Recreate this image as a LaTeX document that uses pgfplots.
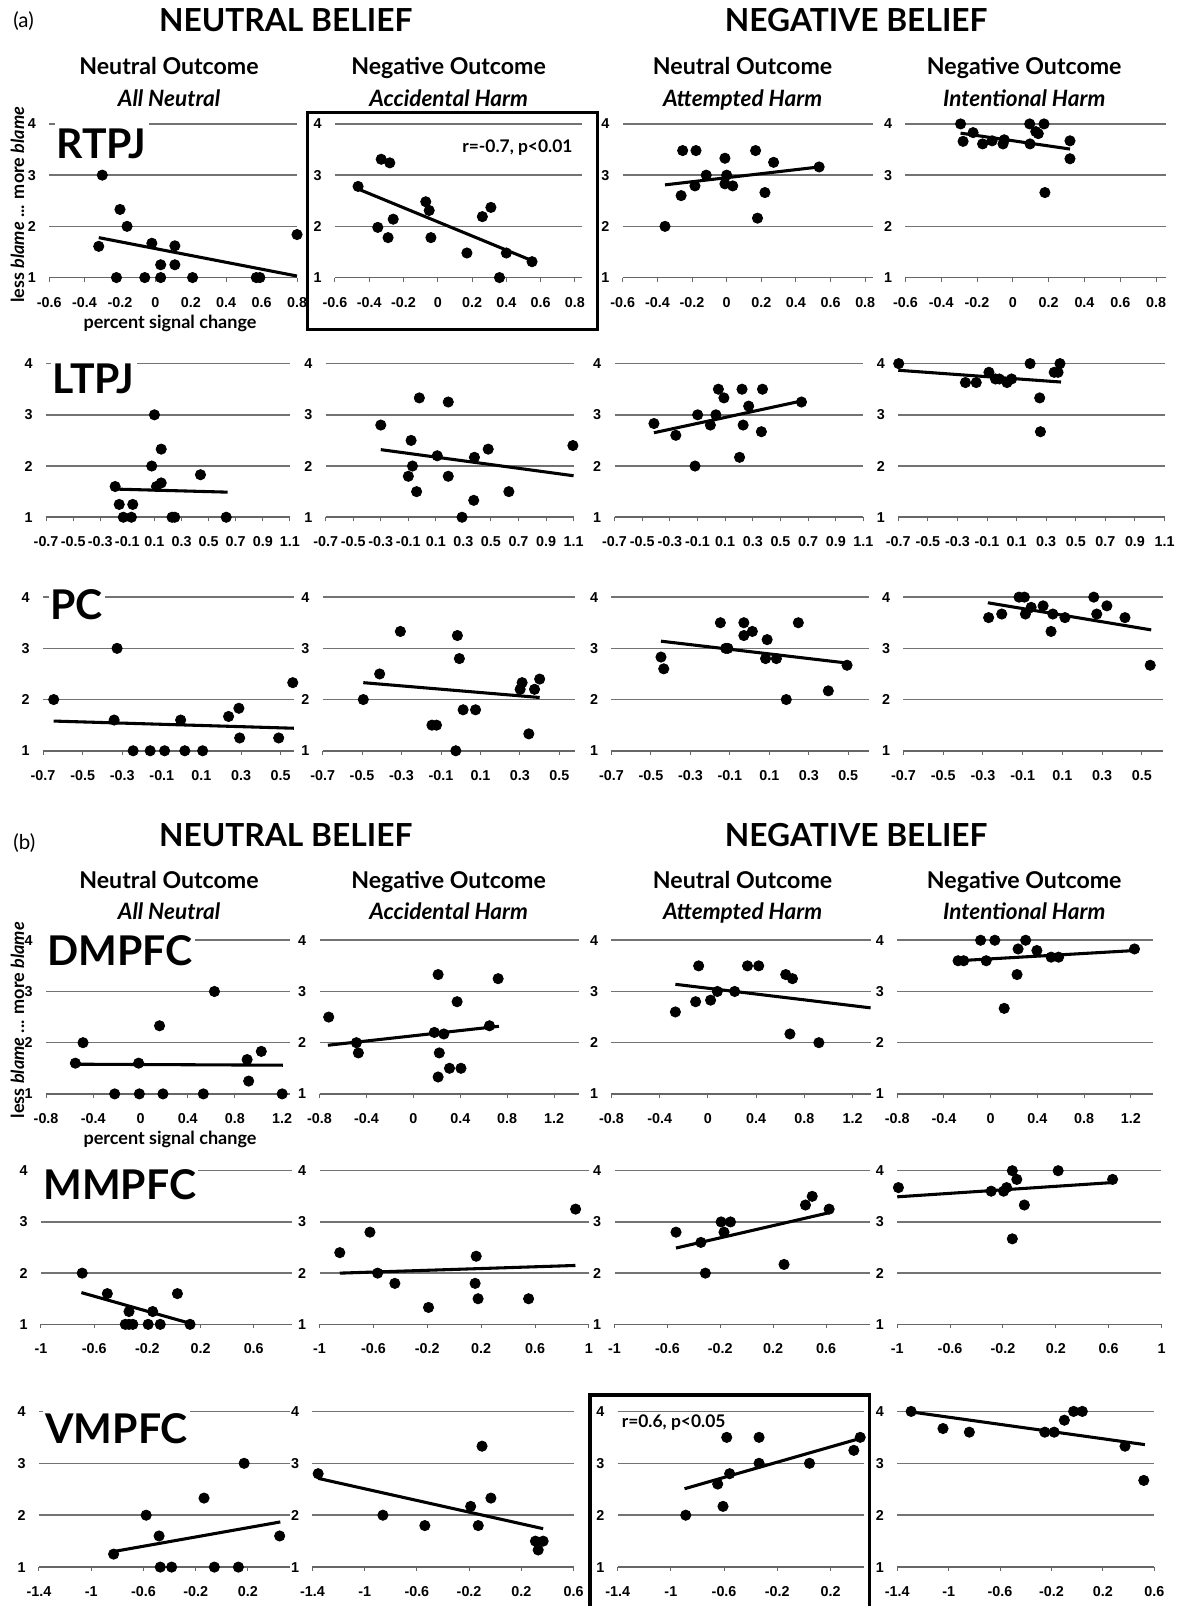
\documentclass[border=0pt]{standalone}
\usepackage{fontspec}
\setmainfont{Lato}
\newfontfamily\arialf{Liberation Sans}
\usepackage{pgfplots}
\pgfplotsset{compat=1.18}
\pgfplotsset{
  base/.style={scale only axis, clip=false, ymin=1, ymax=4, ytick={1,2,3,4}, ymajorgrids,
    grid style={black!55, line width=0.75pt},
    axis x line*=bottom, axis y line*=left,
    y axis line style={draw=none},
    x axis line style={black!60, line width=0.75pt},
    ytick style={draw=none}, xtick style={black!60, line width=0.5pt},
    tick align=outside, major tick length=2pt,
    tick label style={font=\arialf\bfseries\fontsize{7pt}{8pt}\selectfont},
    xticklabel shift=4pt, yticklabel shift=1pt,
    /pgf/number format/fixed, /pgf/number format/precision=1,
    /pgf/number format/assume math mode=true},
  pan/.style n args={6}{base, at={({#1*0.5pt},{-#4*0.5pt})}, anchor=south west,
    width={(#2-#1)*0.5pt}, height={(#4-#3)*0.5pt}, xmin=#5, xmax=#6},
  ta/.style={xtick={-0.6,-0.4,-0.2,0,0.2,0.4,0.6,0.8}},
  tb/.style={xtick={-0.7,-0.5,-0.3,-0.1,0.1,0.3,0.5,0.7,0.9,1.1}},
  tc/.style={xtick={-0.7,-0.5,-0.3,-0.1,0.1,0.3,0.5}},
  td/.style={xtick={-0.8,-0.4,0,0.4,0.8,1.2}},
  te/.style={xtick={-1,-0.6,-0.2,0.2,0.6}},
  tE/.style={xtick={-1,-0.6,-0.2,0.2,0.6,1}},
  tf/.style={xtick={-1.4,-1,-0.6,-0.2,0.2}},
  tF/.style={xtick={-1.4,-1,-0.6,-0.2,0.2,0.6}},
  pt/.style={only marks, mark=*, mark size=2.5pt, black},
  tl/.style={black, line width=1.5pt, no marks},
}
\begin{document}
\begin{tikzpicture}
\useasboundingbox (0,0) rectangle (575.5pt,-784pt);
% ===== (a) row 1 RTPJ
\begin{axis}[pan={48}{290}{121}{271}{-0.6}{0.8}, ta]
\addplot[pt] coordinates {(-0.30,3.0)(-0.32,1.61)(-0.20,2.33)(-0.16,2.0)(-0.22,1)(-0.06,1)(-0.02,1.67)(0.03,1.25)(0.03,1)(0.11,1.62)(0.11,1.25)(0.21,1)(0.57,1)(0.59,1)(0.80,1.84)};
\addplot[tl] coordinates {(-0.32,1.78)(0.80,1.03)};
\end{axis}
\begin{axis}[pan={327}{568}{121}{271}{-0.6}{0.84}, ta]
\addplot[pt] coordinates {(-0.465,2.78)(-0.33,3.31)(-0.28,3.24)(-0.35,1.98)(-0.29,1.78)(-0.26,2.14)(-0.07,2.48)(-0.05,2.31)(-0.04,1.78)(0.17,1.48)(0.26,2.19)(0.31,2.37)(0.36,1.0)(0.40,1.48)(0.55,1.31)};
\addplot[tl] coordinates {(-0.465,2.73)(0.55,1.33)};
\end{axis}
\begin{axis}[pan={608}{852}{121}{271}{-0.6}{0.843}, ta]
\addplot[pt] coordinates {(-0.356,2.0)(-0.263,2.6)(-0.254,3.48)(-0.177,3.48)(-0.183,2.79)(-0.118,3.0)(-0.01,3.33)(0,3.0)(-0.01,2.83)(0.035,2.79)(0.167,3.48)(0.178,2.16)(0.221,2.66)(0.271,3.25)(0.534,3.16)};
\addplot[tl] coordinates {(-0.356,2.81)(0.534,3.16)};
\end{axis}
\begin{axis}[pan={884}{1138}{121}{271}{-0.6}{0.853}, ta]
\addplot[pt] coordinates {(-0.292,4.0)(-0.278,3.66)(-0.222,3.83)(-0.169,3.61)(-0.116,3.67)(-0.055,3.61)(-0.048,3.69)(0.094,4.0)(0.096,3.61)(0.128,3.85)(0.142,3.81)(0.174,4.0)(0.179,2.66)(0.319,3.67)(0.319,3.32)};
\addplot[tl] coordinates {(-0.292,3.82)(0.319,3.51)};
\end{axis}
% ===== (a) row 2 LTPJ
\begin{axis}[pan={45}{283}{355}{505}{-0.7}{1.1}, tb]
\addplot[pt] coordinates {(-0.19,1.6)(-0.16,1.25)(-0.13,1)(-0.07,1)(-0.06,1.25)(0.10,3.0)(0.15,2.33)(0.08,2.0)(0.15,1.67)(0.115,1.6)(0.23,1)(0.25,1)(0.44,1.83)(0.63,1)};
\addplot[tl] coordinates {(-0.19,1.55)(0.64,1.49)};
\end{axis}
\begin{axis}[pan={318}{560}{355}{505}{-0.7}{1.1}, tb]
\addplot[pt] coordinates {(-0.30,2.8)(-0.02,3.33)(0.19,3.25)(-0.08,2.5)(0.11,2.2)(-0.07,2.0)(-0.10,1.8)(0.19,1.8)(-0.04,1.5)(0.38,2.17)(0.48,2.33)(0.29,1.0)(0.375,1.33)(0.63,1.5)(1.095,2.4)};
\addplot[tl] coordinates {(-0.30,2.32)(1.1,1.81)};
\end{axis}
\begin{axis}[pan={600}{843}{355}{505}{-0.7}{1.1}, tb]
\addplot[pt] coordinates {(-0.415,2.83)(-0.257,2.6)(-0.118,2.0)(-0.099,3.0)(-0.007,2.8)(0.033,3.0)(0.051,3.5)(0.091,3.33)(0.204,2.17)(0.222,3.5)(0.23,2.8)(0.27,3.17)(0.362,2.67)(0.37,3.5)(0.652,3.25)};
\addplot[tl] coordinates {(-0.415,2.65)(0.652,3.27)};
\end{axis}
\begin{axis}[pan={877}{1137}{355}{505}{-0.7}{1.1}, tb]
\addplot[pt] coordinates {(-0.697,4.0)(-0.246,3.63)(-0.173,3.63)(-0.087,3.83)(-0.043,3.7)(-0.017,3.7)(0.035,3.63)(0.066,3.7)(0.191,4.0)(0.256,3.33)(0.261,2.67)(0.354,3.83)(0.38,3.83)(0.393,4.0)};
\addplot[tl] coordinates {(-0.7,3.87)(0.4,3.64)};
\end{axis}
% ===== (a) row 3 PC
\begin{axis}[pan={42}{287}{583}{733}{-0.7}{0.567}, tc]
\addplot[pt] coordinates {(-0.646,2.0)(-0.326,3.0)(-0.341,1.6)(-0.245,1)(-0.159,1)(-0.086,1)(0.016,1)(0.106,1)(-0.005,1.6)(0.237,1.67)(0.289,1.83)(0.293,1.25)(0.49,1.25)(0.561,2.33)};
\addplot[tl] coordinates {(-0.646,1.58)(0.567,1.44)};
\end{axis}
\begin{axis}[pan={315}{561}{583}{733}{-0.7}{0.577}, tc]
\addplot[pt] coordinates {(-0.494,2.0)(-0.411,2.5)(-0.306,3.33)(-0.146,1.5)(-0.123,1.5)(-0.025,1.0)(-0.017,3.25)(-0.007,2.8)(0.012,1.8)(0.075,1.8)(0.301,2.2)(0.311,2.33)(0.374,2.2)(0.40,2.4)(0.345,1.33)};
\addplot[tl] coordinates {(-0.494,2.33)(0.40,2.04)};
\end{axis}
\begin{axis}[pan={597}{848}{583}{733}{-0.7}{0.603}, tc]
\addplot[pt] coordinates {(-0.449,2.83)(-0.435,2.6)(-0.148,3.5)(-0.121,3.0)(-0.11,3.0)(-0.029,3.5)(-0.029,3.25)(0.014,3.33)(0.089,3.17)(0.081,2.8)(0.136,2.8)(0.186,2.0)(0.247,3.5)(0.399,2.17)(0.494,2.67)};
\addplot[tl] coordinates {(-0.449,3.14)(0.5,2.71)};
\end{axis}
\begin{axis}[pan={882}{1135}{583}{733}{-0.7}{0.604}, tc]
\addplot[pt] coordinates {(-0.271,3.6)(-0.205,3.67)(-0.118,4)(-0.091,4)(-0.086,3.67)(-0.057,3.8)(0.003,3.83)(0.043,3.33)(0.052,3.67)(0.113,3.6)(0.258,4)(0.273,3.67)(0.324,3.83)(0.415,3.6)(0.542,2.67)};
\addplot[tl] coordinates {(-0.275,3.89)(0.547,3.36)};
\end{axis}
% ===== (b) row 1 DMPFC
\begin{axis}[pan={45}{283}{918}{1068}{-0.8}{1.265}, td]
\addplot[pt] coordinates {(-0.552,1.6)(-0.487,2.0)(-0.219,1)(-0.016,1.6)(-0.01,1)(0.161,2.33)(0.19,1)(0.532,1)(0.626,3.0)(0.903,1.67)(0.916,1.25)(1.023,1.83)(1.2,1)};
\addplot[tl] coordinates {(-0.552,1.58)(1.205,1.56)};
\end{axis}
\begin{axis}[pan={312}{565}{918}{1068}{-0.8}{1.41}, td]
\addplot[pt] coordinates {(-0.722,2.5)(-0.486,2.0)(-0.469,1.8)(0.211,3.33)(0.179,2.2)(0.26,2.17)(0.221,1.8)(0.308,1.5)(0.211,1.33)(0.406,1.5)(0.373,2.8)(0.649,2.33)(0.723,3.25)};
\addplot[tl] coordinates {(-0.729,1.95)(0.73,2.32)};
\end{axis}
\begin{axis}[pan={597}{850}{918}{1068}{-0.8}{1.349}, td]
\addplot[pt] coordinates {(-0.27,2.6)(-0.102,2.8)(-0.077,3.5)(0.022,2.83)(0.078,3.0)(0.222,3.0)(0.328,3.5)(0.421,3.5)(0.645,3.33)(0.701,3.25)(0.68,2.17)(0.92,2.0)};
\addplot[tl] coordinates {(-0.27,3.14)(1.349,2.68)};
\end{axis}
\begin{axis}[pan={876}{1126}{918}{1068}{-0.8}{1.393}, td]
\addplot[pt] coordinates {(-0.279,3.6)(-0.231,3.6)(-0.086,4)(-0.038,3.6)(0.036,4)(0.226,3.33)(0.235,3.83)(0.30,4)(0.396,3.8)(0.116,2.67)(0.518,3.67)(0.582,3.67)(1.232,3.83)};
\addplot[tl] coordinates {(-0.279,3.6)(1.238,3.8)};
\end{axis}
% ===== (b) row 2 MMPFC
\begin{axis}[pan={40}{285}{1143}{1293}{-1}{0.887}, te]
\addplot[pt] coordinates {(-0.69,2.0)(-0.501,1.6)(-0.338,1.25)(-0.366,1)(-0.338,1)(-0.309,1)(-0.194,1)(-0.16,1.25)(-0.103,1)(0.026,1.6)(0.121,1)};
\addplot[tl] coordinates {(-0.696,1.62)(0.121,1.02)};
\end{axis}
\begin{axis}[pan={312}{575}{1143}{1293}{-1}{1}, tE]
\addplot[pt] coordinates {(-0.85,2.4)(-0.626,2.8)(-0.569,2.0)(-0.441,1.8)(-0.191,1.33)(0.163,2.33)(0.155,1.8)(0.177,1.5)(0.552,1.5)(0.901,3.25)};
\addplot[tl] coordinates {(-0.85,2.0)(0.90,2.15)};
\end{axis}
\begin{axis}[pan={600}{849}{1143}{1293}{-1}{0.929}, te]
\addplot[pt] coordinates {(-0.535,2.8)(-0.347,2.6)(-0.313,2.0)(-0.194,3.0)(-0.123,3.0)(-0.172,2.8)(0.282,2.17)(0.444,3.33)(0.495,3.5)(0.623,3.25)};
\addplot[tl] coordinates {(-0.535,2.49)(0.623,3.18)};
\end{axis}
\begin{axis}[pan={876}{1134}{1143}{1293}{-1}{1}, tE]
\addplot[pt] coordinates {(-0.991,3.67)(-0.289,3.6)(-0.195,3.6)(-0.172,3.67)(-0.129,4)(-0.095,3.83)(-0.129,2.67)(-0.038,3.33)(0.218,4)(0.63,3.83)};
\addplot[tl] coordinates {(-1.0,3.49)(0.636,3.77)};
\end{axis}
% ===== (b) row 3 VMPFC
\begin{axis}[pan={38}{283}{1378}{1530}{-1.4}{0.521}, tf]
\addplot[pt] coordinates {(-0.828,1.25)(-0.579,2.0)(-0.48,1.6)(-0.471,1)(-0.384,1)(-0.136,2.33)(-0.057,1)(0.127,1)(0.171,3.0)(0.443,1.6)};
\addplot[tl] coordinates {(-0.828,1.30)(0.448,1.87)};
\end{axis}
\begin{axis}[pan={305}{560}{1378}{1530}{-1.4}{0.6}, tF]
\addplot[pt] coordinates {(-1.356,2.8)(-0.86,2.0)(-0.539,1.8)(-0.188,2.17)(-0.13,1.8)(-0.101,3.33)(-0.033,2.33)(0.308,1.5)(0.367,1.5)(0.329,1.33)};
\addplot[tl] coordinates {(-1.356,2.71)(0.367,1.74)};
\end{axis}
\begin{axis}[pan={603}{844}{1378}{1530}{-1.4}{0.455}, tf]
\addplot[pt] coordinates {(-0.888,2.0)(-0.648,2.6)(-0.608,2.17)(-0.58,3.5)(-0.558,2.8)(-0.337,3.5)(-0.337,3.0)(0.042,3.0)(0.375,3.25)(0.423,3.5)};
\addplot[tl] coordinates {(-0.897,2.51)(0.423,3.48)};
\end{axis}
\begin{axis}[pan={876}{1127}{1378}{1530}{-1.4}{0.6}, tF]
\addplot[pt] coordinates {(-1.292,4)(-1.044,3.67)(-0.839,3.6)(-0.252,3.6)(-0.179,3.6)(-0.1,3.83)(-0.028,4)(0.04,4)(0.372,3.33)(0.518,2.67)};
\addplot[tl] coordinates {(-1.292,3.99)(0.527,3.36)};
\end{axis}
% ===== texts
\begin{scope}[x=0.5pt,y=-0.5pt]
\tikzset{ttl/.style={anchor=base, font=\bfseries\fontsize{15.5pt}{18pt}\selectfont},
  hd/.style={anchor=base, font=\bfseries\fontsize{11.3pt}{13pt}\selectfont},
  sh/.style={anchor=base, font=\bfseries\itshape\fontsize{11pt}{13pt}\selectfont},
  reg/.style={anchor=base west, fill=white, inner xsep=1pt, inner ysep=3pt, font=\bfseries\fontsize{20pt}{24pt}\selectfont},
  lab/.style={font=\bfseries\fontsize{8.8pt}{10pt}\selectfont}}
\node[anchor=base west, font=\fontsize{10pt}{12pt}\selectfont] at (6,27) {(a)};
\node[ttl] at (279,31) {NEUTRAL BELIEF};
\node[ttl] at (836,31) {NEGATIVE BELIEF};
\node[hd] at (165,73) {Neutral Outcome};
\node[sh] at (165,104) {All Neutral};
\node[hd] at (438,73) {Negative Outcome};
\node[sh] at (438,104) {Accidental Harm};
\node[hd] at (725,73) {Neutral Outcome};
\node[sh] at (725,104) {Attempted Harm};
\node[hd] at (1000,73) {Negative Outcome};
\node[sh] at (1000,104) {Intentional Harm};
\node[anchor=base west, font=\fontsize{10pt}{12pt}\selectfont] at (6,829) {(b)};
\node[ttl] at (279,826) {NEUTRAL BELIEF};
\node[ttl] at (836,826) {NEGATIVE BELIEF};
\node[hd] at (165,867) {Neutral Outcome};
\node[sh] at (165,898) {All Neutral};
\node[hd] at (438,867) {Negative Outcome};
\node[sh] at (438,898) {Accidental Harm};
\node[hd] at (725,867) {Neutral Outcome};
\node[sh] at (725,898) {Attempted Harm};
\node[hd] at (1000,867) {Negative Outcome};
\node[sh] at (1000,898) {Intentional Harm};
\node[reg] at (53,155) {RTPJ};
\node[reg] at (49,384) {LTPJ};
\node[reg] at (47,605) {PC};
\node[reg] at (44,943) {DMPFC};
\node[reg] at (40,1171) {MMPFC};
\node[reg] at (42,1409) {VMPFC};
\node[lab, rotate=90] at (17,200) {less \textit{blame} ... more \textit{blame}};
\node[lab, rotate=90] at (17,996) {less \textit{blame} ... more \textit{blame}};
\node[lab, anchor=base] at (166,321) {percent signal change};
\node[lab, anchor=base] at (166,1117) {percent signal change};
\node[anchor=base east, font=\bfseries\fontsize{8.5pt}{10pt}\selectfont] at (566,149) {r=-0.7, p<0.01};
\node[anchor=base west, font=\bfseries\fontsize{8.5pt}{10pt}\selectfont] at (600,1394) {r=0.6, p<0.05};
\draw[line width=1.5pt] (300,110) rectangle (583,322);
\draw[line width=1.5pt] (576,1580) -- (576,1362) -- (849,1362) -- (849,1580);
\end{scope}
\end{tikzpicture}
\end{document}
